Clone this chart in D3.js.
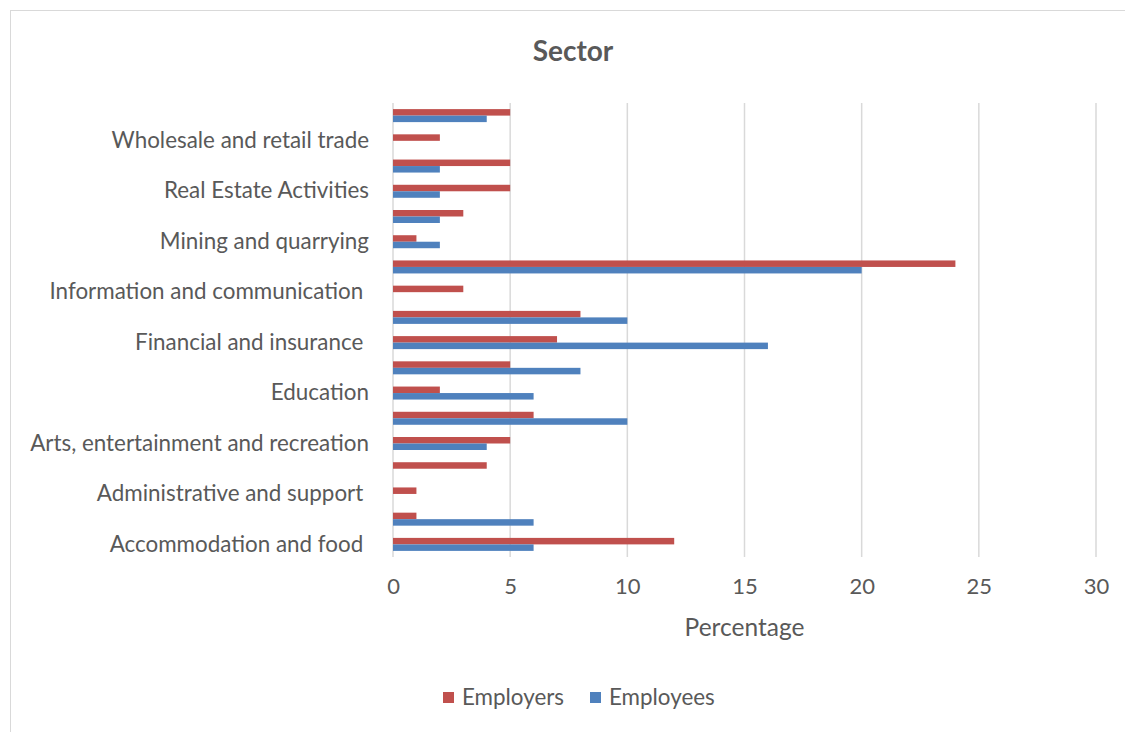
<!DOCTYPE html>
<html>
<head>
<meta charset="utf-8">
<script src="https://cdn.jsdelivr.net/npm/d3@7"></script>
<style>
  body { margin: 0; background: #fff; }
  text { font-family: Lato, "Open Sans", sans-serif; fill: #595959; }
</style>
</head>
<body>
<svg id="chart" width="1125" height="732"></svg>
<script>
// categories, bottom to top (as the chart lists them)
var categories = [
    'Accommodation and food ',
    'Activities of households',
    'Administrative and support ',
    'Agriculture, forestry and fishing',
    'Arts, entertainment and recreation',
    'Construction',
    'Education',
    'Electricity and gas',
    'Financial and insurance ',
    'Human health and social work',
    'Information and communication ',
    'Manufacturing',
    'Mining and quarrying',
    'Professional, scientific and technical',
    'Real Estate Activities',
    'Transportation and storage',
    'Wholesale and retail trade',
    'Water supply'
];
var employers = [12, 1, 1, 4, 5, 6, 2, 5, 7, 8, 3, 24, 1, 3, 5, 5, 2, 5];
var employees = [6, 6, 0, 0, 4, 10, 6, 8, 16, 10, 0, 20, 2, 2, 2, 2, 0, 4];
var seriesNames = ['Employers', 'Employees'];
var seriesColors = ['#C0504D', '#4F81BD'];
var xTicks = [0, 5, 10, 15, 20, 25, 30];

var svg = d3.select('#chart');

svg.append('rect')
    .attr('x', 10.5).attr('y', 10.5)
    .attr('width', 1140).attr('height', 740)
    .attr('fill', '#fff')
    .attr('stroke', '#d9d9d9');

var x = d3.scaleLinear().domain([0, 30]).range([393, 1096]);

var y = d3.scaleBand()
    .domain(categories.slice().reverse())
    .range([103, 557]);

var barH = 6.5;
var inner = d3.scaleBand()
    .domain(seriesNames)
    .range([0, barH * 2]);

// gridlines
svg.append('g')
    .selectAll('line')
    .data(xTicks)
    .enter().append('line')
    .attr('x1', function(d) { return x(d); })
    .attr('x2', function(d) { return x(d); })
    .attr('y1', 103)
    .attr('y2', 557)
    .attr('stroke', '#d9d9d9')
    .attr('stroke-width', 1.5);

var rows = categories.map(function(c, i) {
    return { cat: c, values: [employers[i], employees[i]] };
});

var groups = svg.append('g')
    .selectAll('g')
    .data(rows)
    .enter().append('g')
    .attr('transform', function(d) {
        return 'translate(0,' + (y(d.cat) + (y.bandwidth() - barH * 2) / 2) + ')';
    });

groups.selectAll('rect')
    .data(function(d) {
        return d.values.map(function(v, j) { return { s: seriesNames[j], v: v, c: seriesColors[j] }; });
    })
    .enter().append('rect')
    .filter(function(d) { return d.v > 0; })
    .attr('x', x(0))
    .attr('y', function(d) { return inner(d.s); })
    .attr('width', function(d) { return x(d.v) - x(0); })
    .attr('height', barH)
    .attr('fill', function(d) { return d.c; });

// category axis, every other label
var $yAxis = svg.append('g')
    .attr('transform', 'translate(' + x(0) + ',0)')
    .call(d3.axisLeft(y)
        .tickSize(0)
        .tickPadding(24)
        .tickFormat(function(d) {
            return categories.indexOf(d) % 2 === 0 ? d : '';
        }));
$yAxis.select('.domain').remove();
$yAxis.selectAll('text')
    .attr('font-size', 22.4)
    .style('white-space', 'pre')
    .attr('fill', '#595959')
    .style('font-family', 'Lato, sans-serif');

var $xAxis = svg.append('g')
    .attr('transform', 'translate(0,557)')
    .call(d3.axisBottom(x).tickValues(xTicks).tickSize(0).tickPadding(21));
$xAxis.select('.domain').remove();
$xAxis.selectAll('text')
    .attr('font-size', 22)
    .attr('fill', '#595959')
    .style('font-family', 'Lato, sans-serif');

svg.append('text')
    .attr('x', (x(0) + x(30)) / 2)
    .attr('y', 636)
    .attr('text-anchor', 'middle')
    .attr('font-size', 24.5)
    .text('Percentage');

svg.append('text')
    .attr('x', 573)
    .attr('y', 61)
    .attr('text-anchor', 'middle')
    .attr('font-size', 28)
    .attr('font-weight', 'bold')
    .text('Sector');

// legend
var legendX = [443, 590];
var legend = svg.append('g')
    .selectAll('g')
    .data(seriesNames)
    .enter().append('g')
    .attr('transform', function(d, i) { return 'translate(' + legendX[i] + ',697)'; });
legend.append('rect')
    .attr('x', 0).attr('y', -5)
    .attr('width', 11).attr('height', 11)
    .attr('fill', function(d, i) { return seriesColors[i]; });
legend.append('text')
    .attr('x', 19)
    .attr('y', 8)
    .attr('font-size', 22.4)
    .text(function(d) { return d; });
</script>
</body>
</html>
